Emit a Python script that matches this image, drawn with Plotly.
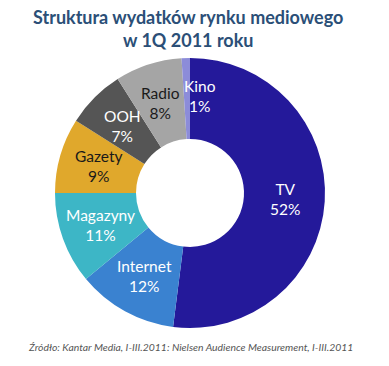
import math
import plotly.graph_objects as go

# Data
categories = ["TV", "Internet", "Magazyny", "Gazety", "OOH", "Radio", "Kino"]
shares = [52, 12, 11, 9, 7, 8, 1]

title_text = "Struktura wydatków rynku mediowego<br>w 1Q 2011 roku"
source_text = "Źródło: Kantar Media, I-III.2011: Nielsen Audience Measurement, I-III.2011"

# Styles
colors = ["#24199A", "#3A82D0", "#3DB6C6", "#E0A82C", "#555555", "#A5A5A5", "#8C8CD9"]
text_colors = ["white", "white", "white", "#1a1a1a", "white", "#1a1a1a", "white"]
W, H = 389, 366
cx, cy, R = 190, 193, 135
hole = 0.40
label_r = 95
angle_override = {"Kino": 6}  # tiny slice: label placed just inside TV
radius_override = {"Kino": 98}
FONT = "Lato"

fig = go.Figure()
fig.add_trace(go.Pie(
    labels=categories,
    values=shares,
    sort=False,
    direction="clockwise",
    rotation=0,
    hole=hole,
    marker=dict(colors=colors, line=dict(width=0)),
    textinfo="none",
    showlegend=False,
    domain=dict(x=[(cx - R) / W, (cx + R) / W], y=[1 - (cy + R) / H, 1 - (cy - R) / H]),
))

total = sum(shares)
cum = 0
annotations = []
for cat, v, tc in zip(categories, shares, text_colors):
    mid = (cum + v / 2) / total * 360
    cum += v
    ang = angle_override.get(cat, mid)
    r = radius_override.get(cat, label_r)
    xp = cx + r * math.sin(math.radians(ang))
    yp = cy - r * math.cos(math.radians(ang))
    annotations.append(dict(
        x=xp / W, y=1 - yp / H, xref="paper", yref="paper",
        text=f"{cat}<br>{v}%", showarrow=False,
        font=dict(family=FONT, size=15.5, color=tc),
        xanchor="center", yanchor="middle", align="center",
    ))

annotations.append(dict(
    x=188 / W, y=1 - 29 / H, xref="paper", yref="paper",
    text=f"<b>{title_text}</b>", showarrow=False,
    font=dict(family=FONT, size=18, color="#2B4F77"),
    xanchor="center", yanchor="middle", align="center",
))
annotations.append(dict(
    x=190 / W, y=1 - 347 / H, xref="paper", yref="paper",
    text=f"<i>{source_text}</i>", showarrow=False,
    font=dict(family=FONT, size=10.4, color="#555555"),
    xanchor="center", yanchor="middle",
))

fig.update_layout(
    width=W, height=H,
    margin=dict(l=0, r=0, t=0, b=0),
    paper_bgcolor="white", plot_bgcolor="white",
    annotations=annotations,
)

fig.write_html(
    "out.html",
    config={"displayModeBar": False},
    post_script="document.body.style.margin='0';document.body.style.overflow='hidden';",
)
